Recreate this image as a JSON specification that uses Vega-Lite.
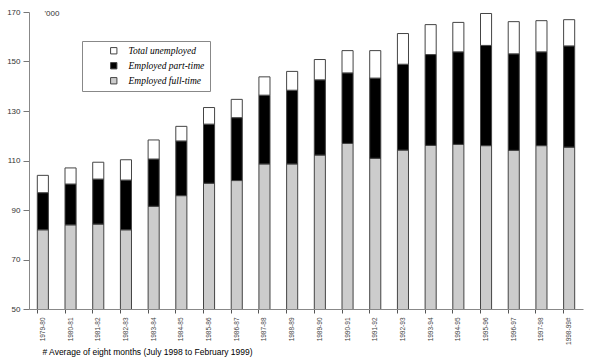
{
  "$schema": "https://vega.github.io/schema/vega-lite/v6.json",
  "width": 554,
  "height": 297,
  "autosize": "none",
  "padding": {"left": 29, "top": 12, "right": 7, "bottom": 53},
  "background": "white",
  "config": {"view": {"stroke": null}, "font": "Liberation Sans"},
  "data": {"values": [
    {"year":"1979-80","cat":"Employed full-time","v":82,"ord":1},{"year":"1979-80","cat":"Employed part-time","v":15,"ord":2},{"year":"1979-80","cat":"Total unemployed","v":7,"ord":3},
    {"year":"1980-81","cat":"Employed full-time","v":84,"ord":1},{"year":"1980-81","cat":"Employed part-time","v":16.5,"ord":2},{"year":"1980-81","cat":"Total unemployed","v":6.5,"ord":3},
    {"year":"1981-82","cat":"Employed full-time","v":84.3,"ord":1},{"year":"1981-82","cat":"Employed part-time","v":18.2,"ord":2},{"year":"1981-82","cat":"Total unemployed","v":6.8,"ord":3},
    {"year":"1982-83","cat":"Employed full-time","v":82,"ord":1},{"year":"1982-83","cat":"Employed part-time","v":20.1,"ord":2},{"year":"1982-83","cat":"Total unemployed","v":8.2,"ord":3},
    {"year":"1983-84","cat":"Employed full-time","v":91.5,"ord":1},{"year":"1983-84","cat":"Employed part-time","v":19.1,"ord":2},{"year":"1983-84","cat":"Total unemployed","v":7.7,"ord":3},
    {"year":"1984-85","cat":"Employed full-time","v":95.8,"ord":1},{"year":"1984-85","cat":"Employed part-time","v":22.1,"ord":2},{"year":"1984-85","cat":"Total unemployed","v":5.9,"ord":3},
    {"year":"1985-86","cat":"Employed full-time","v":100.8,"ord":1},{"year":"1985-86","cat":"Employed part-time","v":23.9,"ord":2},{"year":"1985-86","cat":"Total unemployed","v":6.7,"ord":3},
    {"year":"1986-87","cat":"Employed full-time","v":101.9,"ord":1},{"year":"1986-87","cat":"Employed part-time","v":25.4,"ord":2},{"year":"1986-87","cat":"Total unemployed","v":7.4,"ord":3},
    {"year":"1987-88","cat":"Employed full-time","v":108.6,"ord":1},{"year":"1987-88","cat":"Employed part-time","v":27.8,"ord":2},{"year":"1987-88","cat":"Total unemployed","v":7.4,"ord":3},
    {"year":"1988-89","cat":"Employed full-time","v":108.6,"ord":1},{"year":"1988-89","cat":"Employed part-time","v":29.8,"ord":2},{"year":"1988-89","cat":"Total unemployed","v":7.6,"ord":3},
    {"year":"1989-90","cat":"Employed full-time","v":112.2,"ord":1},{"year":"1989-90","cat":"Employed part-time","v":30.4,"ord":2},{"year":"1989-90","cat":"Total unemployed","v":8.2,"ord":3},
    {"year":"1990-91","cat":"Employed full-time","v":116.9,"ord":1},{"year":"1990-91","cat":"Employed part-time","v":28.5,"ord":2},{"year":"1990-91","cat":"Total unemployed","v":9.0,"ord":3},
    {"year":"1991-92","cat":"Employed full-time","v":110.9,"ord":1},{"year":"1991-92","cat":"Employed part-time","v":32.4,"ord":2},{"year":"1991-92","cat":"Total unemployed","v":11.1,"ord":3},
    {"year":"1992-93","cat":"Employed full-time","v":114.2,"ord":1},{"year":"1992-93","cat":"Employed part-time","v":34.7,"ord":2},{"year":"1992-93","cat":"Total unemployed","v":12.4,"ord":3},
    {"year":"1993-94","cat":"Employed full-time","v":116.1,"ord":1},{"year":"1993-94","cat":"Employed part-time","v":36.7,"ord":2},{"year":"1993-94","cat":"Total unemployed","v":12.1,"ord":3},
    {"year":"1994-95","cat":"Employed full-time","v":116.5,"ord":1},{"year":"1994-95","cat":"Employed part-time","v":37.4,"ord":2},{"year":"1994-95","cat":"Total unemployed","v":11.9,"ord":3},
    {"year":"1995-96","cat":"Employed full-time","v":116.0,"ord":1},{"year":"1995-96","cat":"Employed part-time","v":40.5,"ord":2},{"year":"1995-96","cat":"Total unemployed","v":12.9,"ord":3},
    {"year":"1996-97","cat":"Employed full-time","v":114.1,"ord":1},{"year":"1996-97","cat":"Employed part-time","v":39.0,"ord":2},{"year":"1996-97","cat":"Total unemployed","v":13.0,"ord":3},
    {"year":"1997-98","cat":"Employed full-time","v":116.0,"ord":1},{"year":"1997-98","cat":"Employed part-time","v":37.9,"ord":2},{"year":"1997-98","cat":"Total unemployed","v":12.6,"ord":3},
    {"year":"1998-99#","cat":"Employed full-time","v":115.4,"ord":1},{"year":"1998-99#","cat":"Employed part-time","v":40.9,"ord":2},{"year":"1998-99#","cat":"Total unemployed","v":10.6,"ord":3}
  ]},
  "mark": {"type": "bar", "clip": true, "stroke": "#444", "strokeWidth": 1},
  "encoding": {
    "x": {
      "field": "year", "type": "nominal", "sort": null,
      "scale": {"paddingInner": 0.6, "paddingOuter": 0.3},
      "axis": {
        "title": "# Average of eight months (July 1998 to February 1999)",
        "titleFont": "Liberation Sans", "titleFontSize": 8.5, "titleFontWeight": "normal", "titleColor": "#000",
        "titleAnchor": "start", "titleAlign": "left", "titleX": 13, "titleY": 38,
        "labelAngle": -90, "labelAlign": "right", "labelBaseline": "middle",
        "labelFontSize": 6.5, "labelColor": "#444", "labelPadding": 4,
        "bandPosition": 0, "tickSize": 4, "tickColor": "#555", "domainColor": "#888",
        "labelOverlap": false
      }
    },
    "y": {
      "field": "v", "type": "quantitative", "stack": "zero",
      "scale": {"domain": [50, 170], "zero": false, "nice": false},
      "axis": {
        "values": [50, 70, 90, 110, 130, 150, 170],
        "title": "'000", "titleAngle": 0, "titleAlign": "left", "titleBaseline": "middle",
        "titleX": 15, "titleY": 1, "titleFontSize": 8, "titleFontWeight": "normal", "titleColor": "#333",
        "labelFontSize": 8, "labelColor": "#333", "labelPadding": 3,
        "tickSize": 6, "tickColor": "#777", "domainColor": "#888", "grid": false
      }
    },
    "color": {
      "field": "cat", "type": "nominal",
      "scale": {"domain": ["Total unemployed", "Employed part-time", "Employed full-time"], "range": ["#ffffff", "#000000", "#cccccc"]},
      "legend": {
        "title": null, "orient": "none", "legendX": 53, "legendY": 29,
        "padding": 5, "fillColor": "white", "strokeColor": "#888",
        "symbolType": "square", "symbolSize": 40, "symbolStrokeColor": "#444", "symbolStrokeWidth": 1,
        "symbolOffset": 22, "labelOffset": 10,
        "labelFont": "Liberation Serif", "labelFontStyle": "italic", "labelFontSize": 9.5, "labelColor": "#000",
        "rowPadding": 4,
        "labelExpr": "datum.label + '            '"
      }
    },
    "order": {"field": "ord", "type": "quantitative", "sort": "ascending"}
  }
}
